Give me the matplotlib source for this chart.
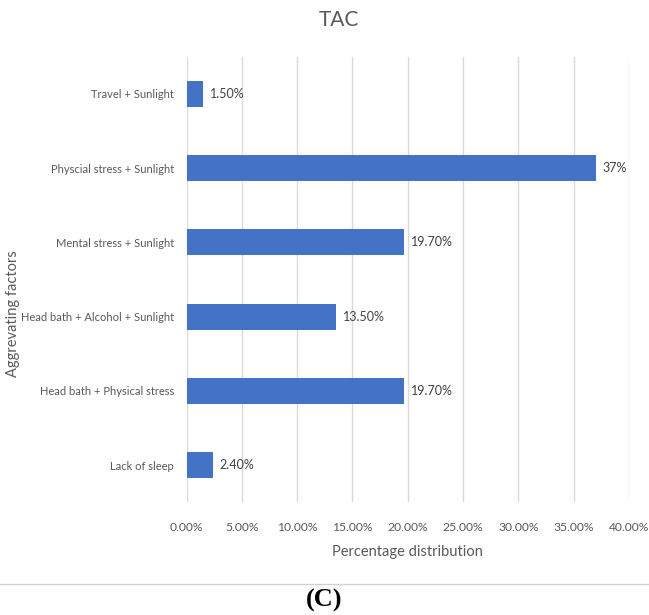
import matplotlib.pyplot as plt
from matplotlib.ticker import FuncFormatter

# Data, top to bottom as shown
factors = [
    "Travel + Sunlight",
    "Physcial stress + Sunlight",
    "Mental stress + Sunlight",
    "Head bath + Alcohol + Sunlight",
    "Head bath + Physical stress",
    "Lack of sleep",
]
percent = [1.5, 37.0, 19.7, 13.5, 19.7, 2.4]
value_labels = ["1.50%", "37%", "19.70%", "13.50%", "19.70%", "2.40%"]
x_ticks = [0, 5, 10, 15, 20, 25, 30, 35, 40]

plt.rcParams["font.family"] = ["Lato", "DejaVu Sans"]
TEXT = "#595959"
BAR = "#4472C4"
GRID = "#d9d9d9"

fig = plt.figure(figsize=(6.49, 6.15), dpi=100)
ax = fig.add_axes([0.2875, 0.1835, 0.6815, 0.724])

ypos = list(range(len(factors)))[::-1]
ax.barh(ypos, percent, height=0.35, color=BAR, zorder=3)
for y, v, lab in zip(ypos, percent, value_labels):
    ax.text(v + 0.6, y, lab, va="center", ha="left", fontsize=9, color="#404040")

ax.set_xlim(0, 40)
ax.set_ylim(-0.5, len(factors) - 0.5)
ax.set_xticks(x_ticks)
ax.xaxis.set_major_formatter(FuncFormatter(lambda v, p: f"{v:.2f}%"))
ax.set_yticks(ypos)
ax.set_yticklabels(factors)
ax.tick_params(axis="x", length=0, labelsize=8.7, colors=TEXT, pad=14)
ax.tick_params(axis="y", length=0, labelsize=8.0, colors=TEXT, pad=9)
ax.grid(axis="x", color=GRID, linewidth=1, zorder=0)
for s in ax.spines.values():
    s.set_visible(False)

ax.set_xlabel("Percentage distribution", fontsize=10.5, color=TEXT, labelpad=9)
fig.text(0.02, 0.49, "Aggrevating factors", rotation=90, fontsize=10.5,
         color=TEXT, ha="center", va="center")
fig.text(0.523, 0.967, "TAC", fontsize=15, color=TEXT, ha="center", va="center")

# separator line and panel label
fig.add_artist(plt.Line2D([0.0, 1.0], [0.05, 0.05], transform=fig.transFigure,
                          color="#d0d0d0", linewidth=1))
fig.text(0.5, 0.024, "(C)", fontsize=19, fontweight="bold",
         family="Liberation Serif", ha="center", va="center", color="black")

fig.savefig("out.png", dpi=100)
